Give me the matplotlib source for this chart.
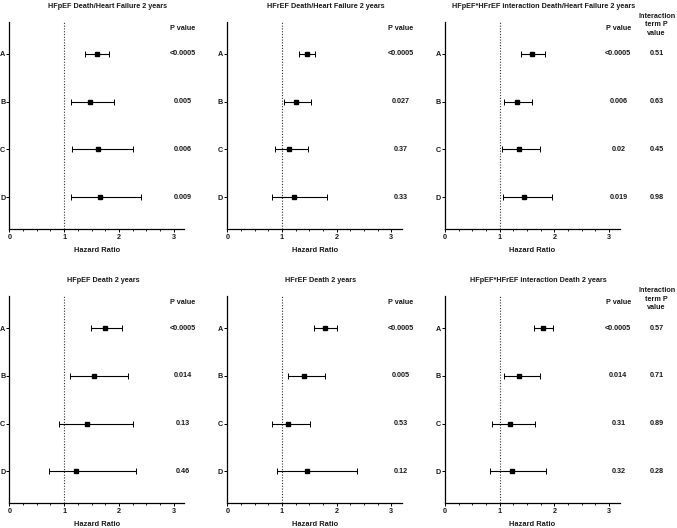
import matplotlib
matplotlib.use("Agg")
import matplotlib.pyplot as plt
from matplotlib.ticker import MultipleLocator
import numpy as np

plt.rcParams['font.family'] = ['Liberation Sans', 'DejaVu Sans']
plt.rcParams['font.weight'] = 'bold'
plt.rcParams['axes.labelweight'] = 'bold'
plt.rcParams['font.size'] = 5.2

# rows, top to bottom
rows = ['A', 'B', 'C', 'D']

titles = ['HFpEF Death/Heart Failure 2 years',
          'HFrEF Death/Heart Failure 2 years',
          'HFpEF*HFrEF interaction Death/Heart Failure 2 years',
          'HFpEF Death 2 years',
          'HFrEF Death 2 years',
          'HFpEF*HFrEF interaction Death 2 years']

# hazard ratios with lower / upper CI
hr_pef_dhf = [1.60, 1.47, 1.61, 1.65]
lo_pef_dhf = [1.39, 1.12, 1.14, 1.13]
hi_pef_dhf = [1.82, 1.92, 2.26, 2.41]

hr_ref_dhf = [1.45, 1.25, 1.13, 1.22]
lo_ref_dhf = [1.31, 1.03, 0.87, 0.82]
hi_ref_dhf = [1.61, 1.53, 1.47, 1.82]

hr_int_dhf = [1.59, 1.32, 1.35, 1.44]
lo_int_dhf = [1.39, 1.08, 1.05, 1.06]
hi_int_dhf = [1.82, 1.60, 1.74, 1.95]

hr_pef_d = [1.74, 1.55, 1.42, 1.22]
lo_pef_d = [1.49, 1.10, 0.90, 0.73]
hi_pef_d = [2.05, 2.17, 2.25, 2.31]

hr_ref_d = [1.79, 1.40, 1.11, 1.46]
lo_ref_d = [1.59, 1.11, 0.81, 0.91]
hi_ref_d = [2.01, 1.78, 1.52, 2.37]

hr_int_d = [1.79, 1.36, 1.18, 1.23]
lo_int_d = [1.62, 1.07, 0.86, 0.82]
hi_int_d = [1.97, 1.74, 1.64, 1.84]

p_pef_dhf = ['<0.0005', '0.005', '0.006', '0.009']
p_ref_dhf = ['<0.0005', '0.027', '0.37', '0.33']
p_int_dhf = ['<0.0005', '0.006', '0.02', '0.019']
p_pef_d = ['<0.0005', '0.014', '0.13', '0.46']
p_ref_d = ['<0.0005', '0.005', '0.53', '0.12']
p_int_d = ['<0.0005', '0.014', '0.31', '0.32']

pint_dhf = ['0.51', '0.63', '0.45', '0.98']
pint_d = ['0.57', '0.71', '0.89', '0.28']

panels = [
    (hr_pef_dhf, lo_pef_dhf, hi_pef_dhf, p_pef_dhf, None),
    (hr_ref_dhf, lo_ref_dhf, hi_ref_dhf, p_ref_dhf, None),
    (hr_int_dhf, lo_int_dhf, hi_int_dhf, p_int_dhf, pint_dhf),
    (hr_pef_d, lo_pef_d, hi_pef_d, p_pef_d, None),
    (hr_ref_d, lo_ref_d, hi_ref_d, p_ref_d, None),
    (hr_int_d, lo_int_d, hi_int_d, p_int_d, pint_d),
]

fig = plt.figure(figsize=(6.77, 5.28), dpi=100)

lefts = [0.014, 0.3357, 0.6573]
bottoms = [0.5663, 0.0468]
w, h = 0.2585, 0.392
txtc = '#1a1a1a'

ypos = np.arange(len(rows))[::-1] + 1.0

for i, (hr, lo, hi, pv, pint) in enumerate(panels):
    r, c = divmod(i, 3)
    ax = fig.add_axes([lefts[c], bottoms[r], w, h])
    hr = np.array(hr); lo = np.array(lo); hi = np.array(hi)
    ax.axvline(1, color='#333333', ls=(0, (1, 1.5)), lw=0.8, zorder=1)
    ax.errorbar(hr, ypos, xerr=[hr - lo, hi - hr], fmt='s', color='black',
                ms=3, lw=0.8, capsize=2.5, capthick=0.7, zorder=3)
    ax.set_xlim(0, 3.2)
    ax.set_ylim(0.33, 4.67)
    ax.set_yticks(ypos)
    ax.set_yticklabels(rows, color=txtc)
    ax.set_xticks([0, 1, 2, 3])
    ax.xaxis.set_minor_locator(MultipleLocator(0.25))
    ax.tick_params(axis='x', which='major', length=2.2, width=0.7, pad=1.2, labelcolor=txtc)
    ax.tick_params(axis='x', which='minor', length=1.2, width=0.6)
    ax.tick_params(axis='y', length=2, width=0.7, pad=1, labelcolor=txtc)
    for s in ['top', 'right']:
        ax.spines[s].set_visible(False)
    for s in ['left', 'bottom']:
        ax.spines[s].set_linewidth(0.9)
    ax.set_xlabel('Hazard Ratio', labelpad=4.3, color=txtc, fontsize=5.4)
    tx = 0.563 if r == 0 else 0.534
    ax.text(tx, 1.077, titles[i], transform=ax.transAxes, ha='center', va='center',
            color=txtc)
    px = 3.17
    ax.text(px, 4.54, 'P value', ha='center', va='center', color=txtc, clip_on=False)
    for y, p in zip(ypos, pv):
        ax.text(px, y, p, ha='center', va='center', color=txtc, clip_on=False)
    if pint is not None:
        ix = 3.87
        ax.text(ix, 4.61, 'Interaction\nterm P\nvalue', ha='center', va='center',
                color=txtc, linespacing=1.3, clip_on=False)
        for y, p in zip(ypos, pint):
            ax.text(ix, y, p, ha='center', va='center', color=txtc, clip_on=False)

fig.savefig('out.png', dpi=100, facecolor='white')
